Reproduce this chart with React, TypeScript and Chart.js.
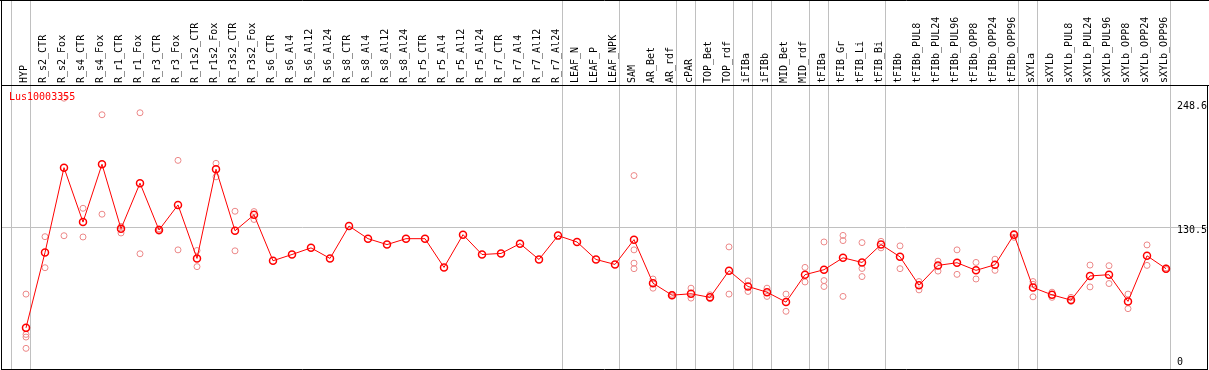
import React, { useEffect, useRef } from 'react';
import { Chart, registerables } from 'chart.js';

Chart.register(...registerables);

const TITLE = 'Lus10003355';

const CATEGORIES = [
  'HYP', 'R_s2_CTR', 'R_s2_Fox', 'R_s4_CTR', 'R_s4_Fox', 'R_r1_CTR', 'R_r1_Fox', 'R_r3_CTR', 'R_r3_Fox',
  'R_r1s2_CTR', 'R_r1s2_Fox', 'R_r3s2_CTR', 'R_r3s2_Fox', 'R_s6_CTR', 'R_s6_Al4', 'R_s6_Al12', 'R_s6_Al24',
  'R_s8_CTR', 'R_s8_Al4', 'R_s8_Al12', 'R_s8_Al24', 'R_r5_CTR', 'R_r5_Al4', 'R_r5_Al12', 'R_r5_Al24',
  'R_r7_CTR', 'R_r7_Al4', 'R_r7_Al12', 'R_r7_Al24', 'LEAF_N', 'LEAF_P', 'LEAF_NPK', 'SAM', 'AR_Bet', 'AR_rdf',
  'cPAR', 'TOP_Bet', 'TOP_rdf', 'iFIBa', 'iFIBb', 'MID_Bet', 'MID_rdf', 'tFIBa', 'tFIB_Gr', 'tFIB_Li', 'tFIB_Bi',
  'tFIBb', 'tFIBb_PUL8', 'tFIBb_PUL24', 'tFIBb_PUL96', 'tFIBb_OPP8', 'tFIBb_OPP24', 'tFIBb_OPP96',
  'sXYLa', 'sXYLb', 'sXYLb_PUL8', 'sXYLb_PUL24', 'sXYLb_PUL96', 'sXYLb_OPP8', 'sXYLb_OPP24', 'sXYLb_OPP96',
];

const MEANS = [
  34.7, 106.1, 186.5, 134.9, 189.7, 128.6, 171.8, 127.4, 151.2, 100.5, 185.0, 126.7, 141.8,
  98.3, 104.2, 110.5, 100.5, 131.2, 119.2, 113.6, 119.2, 119.2, 92.0, 123.0, 104.2, 105.2, 114.5, 99.5, 122.1,
  116.1, 99.5, 94.8, 118.3, 77.0, 65.7, 67.0, 63.6, 88.9, 73.9, 68.5, 59.1, 85.1, 89.8, 101.1, 96.7, 113.6,
  102.0, 75.1, 93.9, 96.4, 89.2, 94.5, 123.0, 72.9, 66.0, 61.0, 83.9, 85.1, 59.8, 103.0, 90.8,
];

const N = null;
const REP_1 = [
  66.7, 121.1, 252.3, 148.0, 236.6, 130.8, 238.5, 128.5, 193.4, 108.0, 190.6, 145.2, 144.9,
  N, N, N, N, N, N, N, N, N, N, N, N, N, N, N, N, N, N, N,
  179.0, 81.0, 66.5, 72.3, 66.0, 111.4, 79.2, 72.3, 66.7, 92.0, 116.1, 122.3, 115.5, 116.7,
  112.4, 78.6, 97.9, 108.6, 96.7, 99.8, 124.2, 78.6, 68.5, 63.6, 94.2, 93.6, 66.7, 113.3, 91.5,
];
const REP_2 = [
  28.5, 91.7, 122.0, 120.8, 142.4, 124.6, 104.9, 126.3, 108.6, 92.7, 177.8, 107.7, 137.4,
  N, N, N, N, N, N, N, N, N, N, N, N, N, N, N, N, N, N, N,
  108.6, 72.3, 65.0, 62.9, 62.3, 66.7, 69.2, 64.5, 50.4, 78.2, 79.5, 117.4, 91.0, 110.5,
  90.8, 70.7, 88.5, 85.4, 81.0, 89.2, 120.5, 76.0, 63.6, 59.8, 73.5, 76.7, 52.9, 93.9, 90.0,
];
const REP_3 = [
  26.0, N, N, N, N, N, N, N, N, N, N, N, N,
  N, N, N, N, N, N, N, N, N, N, N, N, N, N, N, N, N, N, N,
  96.0, N, N, N, N, N, N, N, N, N, 73.9, 64.5, 83.3, N,
  N, N, N, N, N, N, N, 64.1, N, N, N, N, N, N, N,
];
const REP_4 = [
  15.3, N, N, N, N, N, N, N, N, N, N, N, N,
  N, N, N, N, N, N, N, N, N, N, N, N, N, N, N, N, N, N, N,
  90.8, N, N, N, N, N, N, N, N, N, N, N, N, N,
  N, N, N, N, N, N, N, N, N, N, N, N, N, N, N,
];

const Y_MIN = 0;
const Y_MAX = 264.8;
const Y_TICKS = [248.6, 130.5, 0];
const Y_TICK_LABELS = ['248.6', '130.5', '0'];
const GRID_VALUE = 130.5;
// category indices after which a group separator is drawn
const GROUP_ENDS = [-1, 0, 28, 31, 34, 35, 37, 38, 39, 41, 42, 45, 52, 53, 60];

const FONT = '"DejaVu Sans Mono", monospace';

const framePlugin = {
  id: 'frame',
  beforeDatasetsDraw(chart: any) {
    const { ctx, scales } = chart;
    const x = scales.x;
    const y = scales.y;
    const W = chart.width;
    const H = chart.height;
    ctx.save();
    ctx.strokeStyle = '#c0c0c0';
    ctx.lineWidth = 1;
    for (const k of GROUP_ENDS) {
      const px = Math.round(x.getPixelForValue(k) + 4) + 0.5;
      ctx.beginPath();
      ctx.moveTo(px, 0);
      ctx.lineTo(px, H);
      ctx.stroke();
    }
    const gy = Math.round(y.getPixelForValue(GRID_VALUE)) + 0.5;
    ctx.beginPath();
    ctx.moveTo(1, gy);
    ctx.lineTo(W - 2, gy);
    ctx.stroke();
    ctx.restore();
  },
  afterDraw(chart: any) {
    const { ctx, scales, chartArea } = chart;
    const y = scales.y;
    const W = chart.width;
    ctx.save();
    // y labels
    ctx.fillStyle = '#000';
    ctx.font = '10px ' + FONT;
    ctx.textAlign = 'left';
    ctx.textBaseline = 'middle';
    Y_TICKS.forEach((v, i) => {
      const py = Math.min(y.getPixelForValue(v) + 4, 362.5);
      ctx.fillText(Y_TICK_LABELS[i], 1177, py);
    });
    // black frame
    ctx.strokeStyle = '#000';
    ctx.lineWidth = 1;
    const top = chartArea.top + 0.5;
    const bottom = 369.5;
    ctx.beginPath();
    ctx.moveTo(0, 0.5); ctx.lineTo(W, 0.5);
    ctx.moveTo(1.5, 0); ctx.lineTo(1.5, bottom);
    ctx.moveTo(1, top); ctx.lineTo(W, top);
    ctx.moveTo(1, bottom); ctx.lineTo(W - 1, bottom);
    ctx.moveTo(W - 1.5, top); ctx.lineTo(W - 1.5, bottom);
    ctx.stroke();
    // title
    ctx.fillStyle = '#ff0000';
    ctx.font = '10px ' + FONT;
    ctx.textAlign = 'left';
    ctx.textBaseline = 'middle';
    ctx.fillText(TITLE, 9, 97);
    ctx.restore();
  },
};

export default function App() {
  const ref = useRef<HTMLCanvasElement>(null);
  useEffect(() => {
    document.body.style.margin = '0';
    const repStyle = {
      showLine: false,
      pointRadius: 3,
      pointBorderWidth: 1,
      pointBorderColor: 'rgb(236,136,136)',
      pointBackgroundColor: 'rgba(0,0,0,0)',
      borderColor: 'rgb(236,136,136)',
      clip: false as any,
      order: 1,
    };
    const chart = new Chart(ref.current as HTMLCanvasElement, {
      type: 'line',
      data: {
        labels: CATEGORIES,
        datasets: [
          {
            label: 'mean',
            data: MEANS,
            borderColor: '#ff0000',
            borderWidth: 1,
            pointRadius: 3.5,
            pointBorderWidth: 1.5,
            pointBorderColor: '#ff0000',
            pointBackgroundColor: 'rgba(0,0,0,0)',
            tension: 0,
            fill: false,
            clip: false as any,
            order: 0,
          },
          { label: 'rep1', data: REP_1, ...repStyle },
          { label: 'rep2', data: REP_2, ...repStyle },
          { label: 'rep3', data: REP_3, ...repStyle },
          { label: 'rep4', data: REP_4, ...repStyle },
        ] as any,
      },
      options: {
        animation: false,
        responsive: false,
        layout: { padding: { left: 26, right: 43, top: 0, bottom: 3 } },
        plugins: { legend: { display: false }, tooltip: { enabled: false } },
        scales: {
          x: {
            type: 'category',
            position: 'top',
            offset: false,
            grid: { display: false, drawTicks: false },
            border: { display: false },
            ticks: {
              autoSkip: false,
              minRotation: 90,
              maxRotation: 90,
              padding: 2,
              labelOffset: 10,
              color: '#000',
              font: { family: FONT, size: 10 },
            },
            afterFit: (s: any) => { s.height = 85; },
          },
          y: { display: false, min: Y_MIN, max: Y_MAX },
        },
      },
      plugins: [framePlugin],
    });
    return () => chart.destroy();
  }, []);
  return <canvas ref={ref} width={1209} height={370} style={{ display: 'block', width: 1209, height: 370 }} />;
}
